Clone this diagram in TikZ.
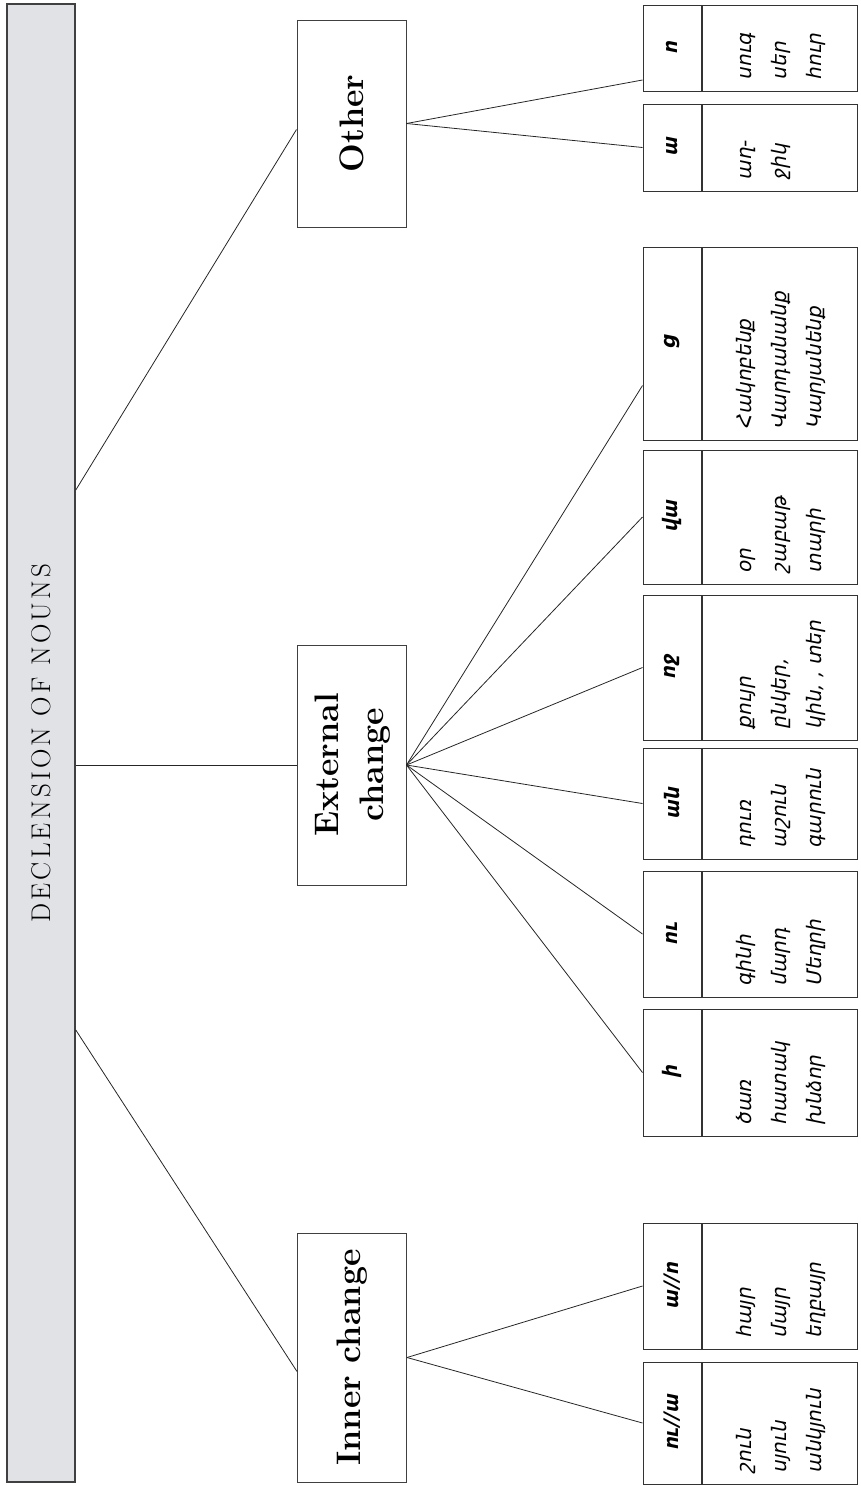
\documentclass[tikz,border=0pt]{standalone}
\usepackage{fontspec}
\newfontfamily\armfont[FakeSlant=0.2]{DejaVu Sans}
\newfontfamily\armbold[FakeSlant=0.2]{DejaVu Sans Bold}
\newfontfamily\titlefont[LetterSpace=12]{Latin Modern Roman}
\definecolor{rootgray}{HTML}{E1E2E5}
\tikzset{
  rootbar/.style={draw=black!75, line width=1.6pt, fill=rootgray, minimum width=68pt, minimum height=1478pt, inner sep=0pt},
  topic/.style={draw=black!75, line width=1pt, minimum width=109pt, inner sep=0pt, font=\bfseries\fontsize{34}{45}\selectfont},
  sufcell/.style={draw=black!80, line width=1pt, minimum width=58pt, inner sep=0pt, font=\armbold\fontsize{20}{24}\selectfont},
  wordcell/.style={draw=black!80, line width=1pt, minimum width=155pt, inner sep=0pt},
  words/.style={inner sep=0pt, font=\armfont\fontsize{20}{35}\selectfont},
  link/.style={draw=black!85, line width=0.8pt}
}
\begin{document}
\begin{tikzpicture}[x=1pt,y=-1pt]
\useasboundingbox (0,0) rectangle (860,1486);
\node[rootbar] (root) at (41,743) {};
\node[rotate=90, inner sep=0pt, font=\titlefont\fontsize{27}{30}\selectfont] (title) at (root.center) {DECLENSION OF NOUNS};

\node[topic, minimum height=207pt] (oth) at (351.5,123.5) {\rotatebox{90}{Other}};
\node[topic, minimum height=240pt] (ext) at (351.5,765) {\rotatebox{90}{\begin{tabular}{@{}c@{}}External\\change\end{tabular}}};
\node[topic, minimum height=249pt] (inn) at (352,1357.5) {\rotatebox{90}{Inner change}};

\draw[link] ([yshift=253pt]root.east) -- ([yshift=-6pt]oth.west);
\draw[link] (root.east |- ext.west) -- (ext.west);
\draw[link] ([yshift=-287pt]root.east) -- ([yshift=-14pt]inn.west);

\foreach \n/\yt/\yb/\suf/\wrds in {
  ia/1362/1484/{ու//ա}/{շուն\\սյուն\\անկյուն},
  ib/1223/1349/{ա//ո}/{հայր\\մայր\\եղբայր},
  ea/1009/1136/{ի}/{ծառ\\հատակ\\խնձոր},
  eb/871/997/{ու}/{գինի\\մարդ\\Մեղրի},
  ec/748/859/{ան}/{դուռ\\աշուն\\գարուն},
  ed/595/740/{ոջ}/{քույր\\ընկեր,\\կին, , տեր},
  ee/450/584/{վա}/{օր\\շաբաթ\\տարի},
  ef/247/440/{ց}/{Հակոբենք\\Վարդանանք\\Կարյանենք},
  oa/104/191/{ա}/{աղ-\\ջիկ},
  ob/5/91/{ո}/{սուգ\\սեր\\հուր}}
{
  \node[sufcell, minimum height=\yb-\yt] (\n-s) at (672,{(\yt+\yb)/2}) {\rotatebox{90}{\suf}};
  \node[wordcell, minimum height=\yb-\yt, anchor=west] (\n-w) at (\n-s.east) {};
  \node[words, anchor=south west] (\n-t) at ([xshift=25pt,yshift=11pt]\n-w.south west) {\rotatebox{90}{\begin{tabular}{@{}l@{}}\wrds\end{tabular}}};
}

\foreach \n in {ia,ib,ea,eb,ec,ed,ee,oa}
  \coordinate (\n-in) at (\n-s.west);
\coordinate (ef-in) at ([yshift=-42pt]ef-s.west);
\coordinate (ob-in) at ([yshift=-32pt]ob-s.west);

\foreach \n in {ia,ib}
  \draw[link] (inn.east) -- (\n-in);
\foreach \n in {ea,eb,ec,ed,ee,ef}
  \draw[link] (ext.east) -- (\n-in);
\foreach \n in {oa,ob}
  \draw[link] (oth.east) -- (\n-in);
\end{tikzpicture}
\end{document}
